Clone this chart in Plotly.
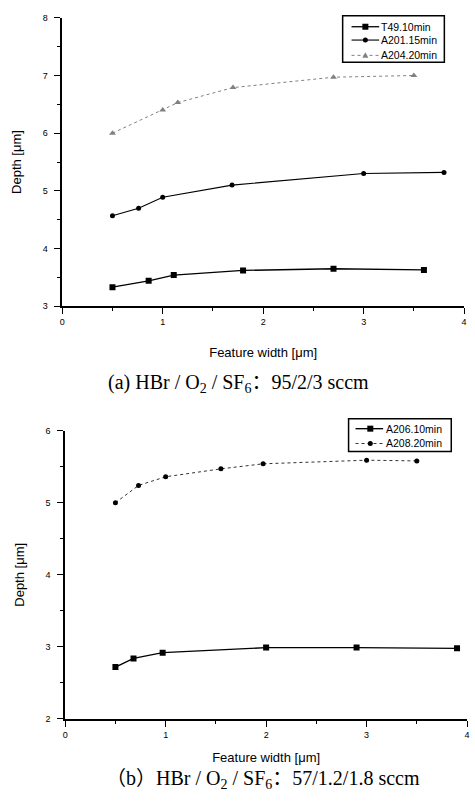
import plotly.graph_objects as go

# Panel (a)
names_a = ["T49.10min", "A201.15min", "A204.20min"]
xa_T49 = [0.5, 0.86, 1.11, 1.8, 2.7, 3.6]
ya_T49 = [3.33, 3.44, 3.54, 3.62, 3.65, 3.63]
xa_A201 = [0.5, 0.76, 1.0, 1.69, 3.0, 3.8]
ya_A201 = [4.57, 4.70, 4.89, 5.10, 5.30, 5.32]
xa_A204 = [0.5, 1.0, 1.15, 1.70, 2.70, 3.50]
ya_A204 = [6.0, 6.40, 6.53, 6.79, 6.97, 7.0]

# Panel (b)
names_b = ["A206.10min", "A208.20min"]
xb_A206 = [0.5, 0.68, 0.97, 2.0, 2.9, 3.9]
yb_A206 = [2.72, 2.84, 2.92, 2.99, 2.99, 2.98]
xb_A208 = [0.5, 0.73, 1.0, 1.55, 1.97, 3.0, 3.5]
yb_A208 = [5.0, 5.24, 5.36, 5.47, 5.54, 5.59, 5.58]

xticks = [0, 1, 2, 3, 4]
yticks_a = [3, 4, 5, 6, 7, 8]
yticks_b = [2, 3, 4, 5, 6]

W, H = 475, 805

styles = {
    "T49.10min": dict(color="black", lw=1.3, dash="solid", sym="square", ms=6, mc="black"),
    "A201.15min": dict(color="black", lw=1.1, dash="solid", sym="circle", ms=5, mc="black"),
    "A204.20min": dict(color="#808080", lw=1.0, dash="dot", sym="triangle-up", ms=6, mc="#808080"),
    "A206.10min": dict(color="black", lw=1.4, dash="solid", sym="square", ms=6, mc="black"),
    "A208.20min": dict(color="#333333", lw=1.0, dash="dot", sym="circle", ms=5, mc="black"),
}

fig = go.Figure()

def add_series(name, xs, ys, xa, ya):
    s = styles[name]
    fig.add_trace(go.Scatter(x=xs, y=ys, name=name, mode="lines+markers",
                             line=dict(color=s["color"], width=s["lw"], dash=s["dash"]),
                             marker=dict(symbol=s["sym"], size=s["ms"], color=s["mc"]),
                             xaxis=xa, yaxis=ya, showlegend=False))

add_series(names_a[0], xa_T49, ya_T49, "x", "y")
add_series(names_a[1], xa_A201, ya_A201, "x", "y")
add_series(names_a[2], xa_A204, ya_A204, "x", "y")
add_series(names_b[0], xb_A206, yb_A206, "x2", "y2")
add_series(names_b[1], xb_A208, yb_A208, "x2", "y2")

tickfont = dict(family="Liberation Sans, Arial", size=9, color="black")
titlefont = dict(family="Liberation Sans, Arial", size=13, color="black")

def xax(domain, anchor, standoff):
    return dict(domain=domain, anchor=anchor, range=[0, 4], tickvals=xticks,
                showline=True, linecolor="black", linewidth=1.5, ticks="outside",
                ticklen=6, tickwidth=1.2, tickcolor="black", showgrid=False, zeroline=False,
                tickfont=tickfont, title=dict(text="Feature width [μm]", font=titlefont, standoff=standoff),
                minor=dict(dtick=0.5, ticks="outside", ticklen=3, tickcolor="black", showgrid=False))

def yax(domain, anchor, rng, tv):
    return dict(domain=domain, anchor=anchor, range=rng, tickvals=tv,
                showline=True, linecolor="black", linewidth=1.5, ticks="outside",
                ticklen=6, tickwidth=1.2, tickcolor="black", showgrid=False, zeroline=False,
                ticklabelstandoff=5,
                tickfont=tickfont, title=dict(text="Depth [μm]", font=titlefont, standoff=18),
                minor=dict(dtick=0.5, ticks="outside", ticklen=3, tickcolor="black", showgrid=False))

fig.update_layout(
    width=W, height=H,
    margin=dict(l=0, r=0, t=0, b=0),
    paper_bgcolor="white", plot_bgcolor="white",
    xaxis=xax([0.1263, 0.9832], "y", 22),
    yaxis=yax([0.6211, 0.9839], "x", [3, 8], yticks_a),
    xaxis2=xax([0.1326, 0.9895], "y2", 14),
    yaxis2=yax([0.1019, 0.4646], "x2", [2, 6], yticks_b),
    showlegend=False,
)

# Custom legend boxes (pixel layout)
def px(x):
    return x / W

def py(y):
    return 1 - y / H

def legend_box(names, box, rows, line_x, mark_x, text_x):
    x0, y0, x1, y1 = box
    fig.add_shape(type="rect", xref="paper", yref="paper", x0=px(x0), x1=px(x1),
                  y0=py(y0), y1=py(y1), line=dict(color="black", width=1.5),
                  fillcolor="rgba(0,0,0,0)")
    for name, ry in zip(names, rows):
        s = styles[name]
        fig.add_shape(type="line", xref="paper", yref="paper", x0=px(line_x[0]), x1=px(line_x[1]),
                      y0=py(ry), y1=py(ry), line=dict(color=s["color"], width=s["lw"], dash=s["dash"]))
        r = s["ms"] / 2
        common = dict(xref="paper", yref="paper", xsizemode="pixel", ysizemode="pixel",
                      xanchor=px(mark_x), yanchor=py(ry), line=dict(width=0), fillcolor=s["mc"])
        if s["sym"] == "square":
            fig.add_shape(type="rect", x0=-r, x1=r, y0=-r, y1=r, **common)
        elif s["sym"] == "circle":
            fig.add_shape(type="circle", x0=-r, x1=r, y0=-r, y1=r, **common)
        else:
            fig.add_shape(type="path", path=f"M {-r},{-r * 0.8} L {r},{-r * 0.8} L 0,{r} Z", **common)
        fig.add_annotation(text=name, x=px(text_x), y=py(ry), xref="paper", yref="paper",
                           xanchor="left", yanchor="middle", showarrow=False,
                           font=dict(family="Liberation Sans, Arial", size=10.5, color="black"))

legend_box(names_a, (344, 11, 447, 58), [22, 35.5, 51], (353, 381), 367, 381)
legend_box(names_b, (350, 419, 454, 452), [429, 444], (357, 385), 372, 386)

capfont = dict(family="Liberation Serif, Times New Roman, Noto Sans CJK SC", size=20, color="black")
fig.add_annotation(text="(a) HBr / O<sub>2</sub> / SF<sub>6</sub>：95/2/3 sccm",
                   x=0.503, y=py(383), xref="paper", yref="paper",
                   showarrow=False, font=capfont, xanchor="center", yanchor="middle")
fig.add_annotation(text="（b）HBr / O<sub>2</sub> / SF<sub>6</sub>：57/1.2/1.8 sccm",
                   x=0.555, y=py(784), xref="paper", yref="paper",
                   showarrow=False, font=capfont, xanchor="center", yanchor="middle")

fig.write_html("out.html")
